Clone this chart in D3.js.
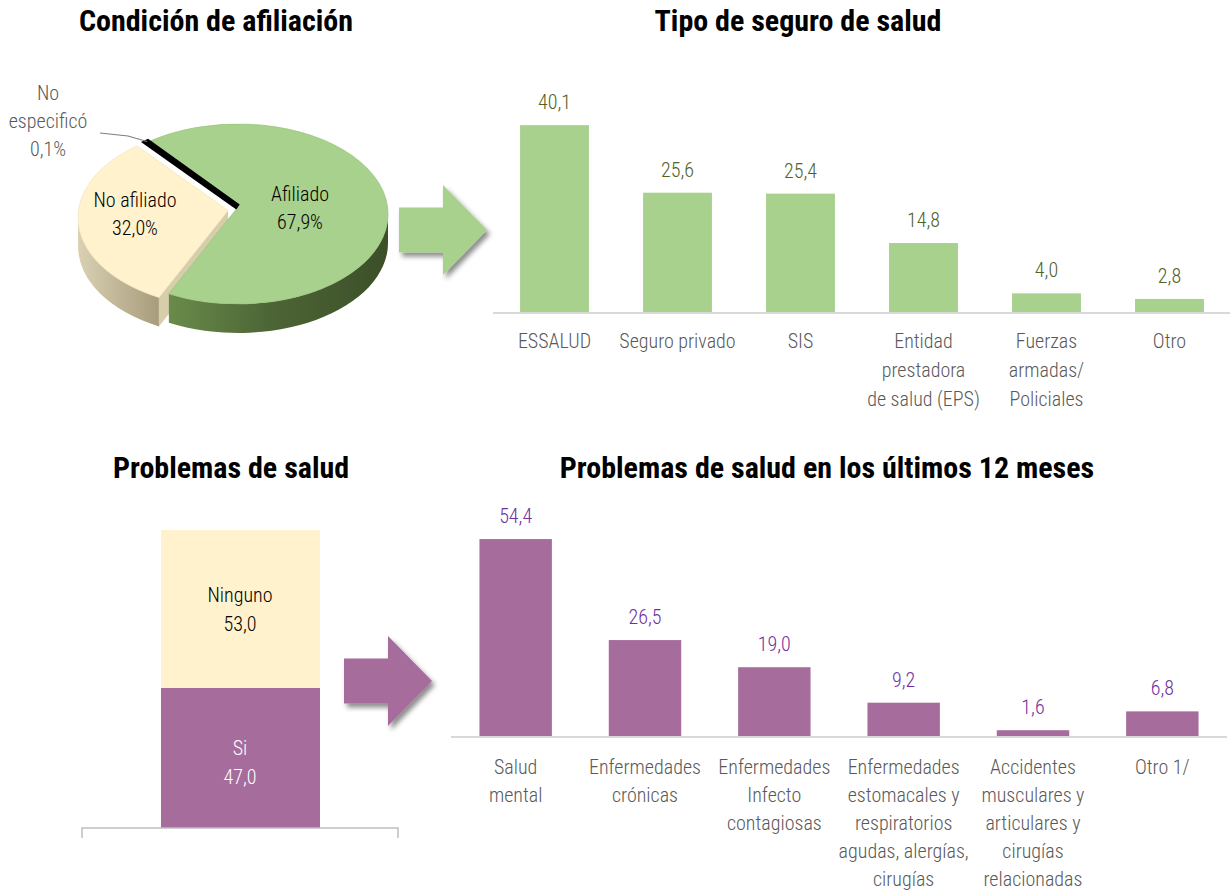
<!DOCTYPE html>
<html>
<head>
<meta charset="utf-8">
<script src="https://cdn.jsdelivr.net/npm/d3@7"></script>
<style>
  body { margin: 0; background: #fff; }
  svg text { font-family: "Roboto Condensed", "Liberation Sans Narrow", "DejaVu Sans Condensed", sans-serif; font-weight: 300; }
  svg text.title { font-weight: bold; font-size: 30px; fill: #000; }
</style>
</head>
<body>
<svg id="chart" width="1230" height="894"></svg>
<script>
// ---- data ----
var pieLabels = ["Afiliado", "No afiliado", "No especificó"];
var pieValues = [67.9, 32.0, 0.1];

var seguroCats = [["ESSALUD"], ["Seguro privado"], ["SIS"], ["Entidad", "prestadora", "de salud (EPS)"], ["Fuerzas", "armadas/", "Policiales"], ["Otro"]];
var seguroValues = [40.1, 25.6, 25.4, 14.8, 4.0, 2.8];

var stackCats = ["Si", "Ninguno"];
var stackValues = [47.0, 53.0];

var probCats = [["Salud", "mental"], ["Enfermedades", "crónicas"], ["Enfermedades", "Infecto", "contagiosas"],
  ["Enfermedades", "estomacales y", "respiratorios", "agudas, alergías,", "cirugías"],
  ["Accidentes", "musculares y", "articulares y", "cirugías", "relacionadas"], ["Otro 1/"]];
var probValues = [54.4, 26.5, 19.0, 9.2, 1.6, 6.8];

var green = "#a9d18e", purple = "#a66c9b", cream = "#fff2cc";

var es = d3.formatLocale({decimal: ",", thousands: ".", grouping: [3], currency: ["", ""]});
var f1 = es.format(".1f");

var svg = d3.select("#chart");

// shadow filter + gradients
var defs = svg.append("defs");
defs.append("filter").attr("id", "shadow").attr("x", "-20%").attr("y", "-20%").attr("width", "150%").attr("height", "150%")
  .append("feDropShadow").attr("dx", 3).attr("dy", 4).attr("stdDeviation", 2.5)
  .attr("flood-color", "#000").attr("flood-opacity", 0.45);

function grad(id, stops) {
  var g = defs.append("linearGradient").attr("id", id).attr("x1", "0%").attr("x2", "100%").attr("y1", "0%").attr("y2", "0%");
  stops.forEach(function(s) { g.append("stop").attr("offset", s[0]).attr("stop-color", s[1]); });
}
grad("gSide", [["0%", "#6a8b4b"], ["45%", "#4d6636"], ["100%", "#3c4f28"]]);
grad("ySide", [["0%", "#d9d1b2"], ["100%", "#a89c7c"]]);

// titles
function title(x, y, t) {
  svg.append("text").attr("class", "title").attr("x", x).attr("y", y).attr("text-anchor", "middle").text(t);
}
title(216, 31, "Condición de afiliación");
title(798, 31, "Tipo de seguro de salud");
title(231, 478, "Problemas de salud");
title(827, 478, "Problemas de salud en los últimos 12 meses");

// ---- 3D pie ----
var cx = 238, cy = 214, rx = 150, ry = 90, depth = 29, vOff = -7;
var start = -37 * Math.PI / 180;
var arcs = d3.pie().sort(null).startAngle(start).endAngle(start + 2 * Math.PI)(pieValues);

function pt(a, ox, oy, dz) {
  return [cx + ox + rx * Math.sin(a), cy + oy - ry * Math.cos(a) + (dz || 0)];
}
function topPath(d, ox, oy) {
  var p0 = pt(d.startAngle, ox, oy), p1 = pt(d.endAngle, ox, oy);
  var large = (d.endAngle - d.startAngle) > Math.PI ? 1 : 0;
  return "M" + (cx + ox) + "," + (cy + oy + vOff) + "L" + p0 + "A" + rx + "," + ry + " 0 " + large + " 1 " + p1 + "Z";
}
function wallPath(a0, a1, ox, oy) {
  var p0 = pt(a0, ox, oy), p1 = pt(a1, ox, oy), q0 = pt(a0, ox, oy, depth), q1 = pt(a1, ox, oy, depth);
  return "M" + p0 + "L" + q0 + "A" + rx + "," + ry + " 0 0 1 " + q1 + "L" + p1 + "A" + rx + "," + ry + " 0 0 0 " + p0 + "Z";
}
function frontPart(d) {
  // visible outer wall between 90° and 270°
  var lo = Math.max(d.startAngle, Math.PI / 2), hi = Math.min(d.endAngle, 3 * Math.PI / 2);
  return hi > lo ? [lo, hi] : null;
}
var offs = arcs.map(function(d, i) {
  if (i !== 1) return [0, 0];
  var m = (d.startAngle + d.endAngle) / 2;
  return [10 * Math.sin(m), -10 * Math.cos(m) * ry / rx + 3];
});

var pieG = svg.append("g");
// yellow walls
var y = arcs[1], yo = offs[1];
var fy = frontPart(y);
if (fy) pieG.append("path").attr("d", wallPath(fy[0], fy[1], yo[0], yo[1])).attr("fill", "url(#ySide)");
var r0 = pt(y.startAngle, yo[0], yo[1]);
pieG.append("path")
  .attr("d", "M" + (cx + yo[0]) + "," + (cy + yo[1] + vOff) + "L" + r0 + "L" + [r0[0], r0[1] + depth] + "L" + [cx + yo[0], cy + yo[1] + vOff + depth] + "Z")
  .attr("fill", "#d6cdaa");
// green wall
var gA = arcs[0], fg = frontPart(gA);
if (fg) pieG.append("path").attr("d", wallPath(fg[0], fg[1], 0, 0)).attr("fill", "url(#gSide)");
// tops
pieG.append("path").attr("d", topPath(y, yo[0], yo[1])).attr("fill", cream).attr("stroke", "#f3e6bd").attr("stroke-width", 0.8);
pieG.append("path").attr("d", topPath(gA, 0, 0)).attr("fill", green).attr("stroke", "#9cc57f").attr("stroke-width", 0.8);
var b = arcs[2];
pieG.append("path").attr("d", topPath(b, 0, 0)).attr("fill", "#000").attr("stroke", "#000").attr("stroke-width", 6).attr("stroke-linejoin", "miter");

// pie labels
function lines(g, x, y0, arr, lh, fill, size) {
  arr.forEach(function(t, i) {
    g.append("text").attr("x", x).attr("y", y0 + i * lh).attr("text-anchor", "middle")
      .attr("font-size", size || 20).attr("fill", fill).text(t);
  });
}
lines(svg, 300, 201, [pieLabels[0], f1(pieValues[0]) + "%"], 28, "#000");
lines(svg, 135, 207, [pieLabels[1], f1(pieValues[1]) + "%"], 28, "#000");
lines(svg, 48, 100, ["No", "especificó", f1(pieValues[2]) + "%"], 28, "#595959");
var bp = pt(b.startAngle, 0, 0);
svg.append("path").attr("d", "M" + [bp[0], bp[1] - 1] + "L" + [128, 136] + "L" + [100, 133])
  .attr("fill", "none").attr("stroke", "#7f7f7f").attr("stroke-width", 1.2);

// ---- arrows ----
function arrow(x0, yc, color) {
  var bw = 44, bh = 45, hw = 44, hh = 90;
  var p = [[x0, yc - bh / 2], [x0 + bw, yc - bh / 2], [x0 + bw, yc - hh / 2], [x0 + bw + hw, yc],
    [x0 + bw, yc + hh / 2], [x0 + bw, yc + bh / 2], [x0, yc + bh / 2]];
  svg.append("path").attr("d", d3.line()(p) + "Z").attr("fill", color).attr("filter", "url(#shadow)");
}
arrow(399, 230, green);
arrow(344, 681, purple);

// ---- bar chart helper ----
function barChart(cats, vals, opt) {
  var x = d3.scaleBand().domain(d3.range(cats.length)).range([opt.x0, opt.x1]).paddingInner(opt.pad).paddingOuter(opt.pad / 2);
  var yS = d3.scaleLinear().domain([0, opt.max]).range([opt.base, opt.base - opt.max * opt.k]);
  var g = svg.append("g");
  g.append("line").attr("x1", opt.lx0).attr("x2", opt.x1).attr("y1", opt.base + 1).attr("y2", opt.base + 1)
    .attr("stroke", "#d9d9d9").attr("stroke-width", 2);
  g.selectAll("rect").data(vals).enter().append("rect")
    .attr("x", function(d, i) { return x(i); })
    .attr("width", x.bandwidth())
    .attr("y", function(d) { return yS(d); })
    .attr("height", function(d) { return opt.base - yS(d); })
    .attr("fill", opt.color);
  g.selectAll(".val").data(vals).enter().append("text")
    .attr("x", function(d, i) { return x(i) + x.bandwidth() / 2; })
    .attr("y", function(d) { return yS(d) - 16; })
    .attr("text-anchor", "middle").attr("font-size", 20).attr("fill", opt.valColor)
    .text(function(d) { return f1(d); });
  cats.forEach(function(c, i) {
    lines(g, x(i) + x.bandwidth() / 2, opt.base + opt.ly, c, opt.lh, "#595959");
  });
}

barChart(seguroCats, seguroValues, {x0: 493, x1: 1231, lx0: 493, pad: 0.44, base: 312, k: 4.66, max: 45,
  color: green, valColor: "#4f6228", lh: 29, ly: 36});
barChart(probCats, probValues, {x0: 451, x1: 1227, lx0: 451, pad: 0.44, base: 736, k: 3.62, max: 58,
  color: purple, valColor: "#7030a0", lh: 28, ly: 38});

// ---- stacked bar ----
var sY = d3.scaleLinear().domain([0, 100]).range([828, 530]);
var stacked = d3.stack().keys(stackCats)([Object.fromEntries(stackCats.map(function(c, i) { return [c, stackValues[i]]; }))]);
var sg = svg.append("g");
sg.selectAll("rect").data(stacked).enter().append("rect")
  .attr("x", 161).attr("width", 159)
  .attr("y", function(s) { return sY(s[0][1]); })
  .attr("height", function(s) { return sY(s[0][0]) - sY(s[0][1]); })
  .attr("fill", function(s, i) { return i === 0 ? purple : cream; });
stacked.forEach(function(s, i) {
  var mid = (sY(s[0][0]) + sY(s[0][1])) / 2;
  lines(sg, 240, mid - 7 + (i === 0 ? 4 : 0), [stackCats[i], f1(stackValues[i])], 29, i === 0 ? "#fff" : "#000");
});
sg.append("path").attr("d", "M82,838V828H398V838").attr("fill", "none").attr("stroke", "#bfbfbf").attr("stroke-width", 1.5);
</script>
</body>
</html>
